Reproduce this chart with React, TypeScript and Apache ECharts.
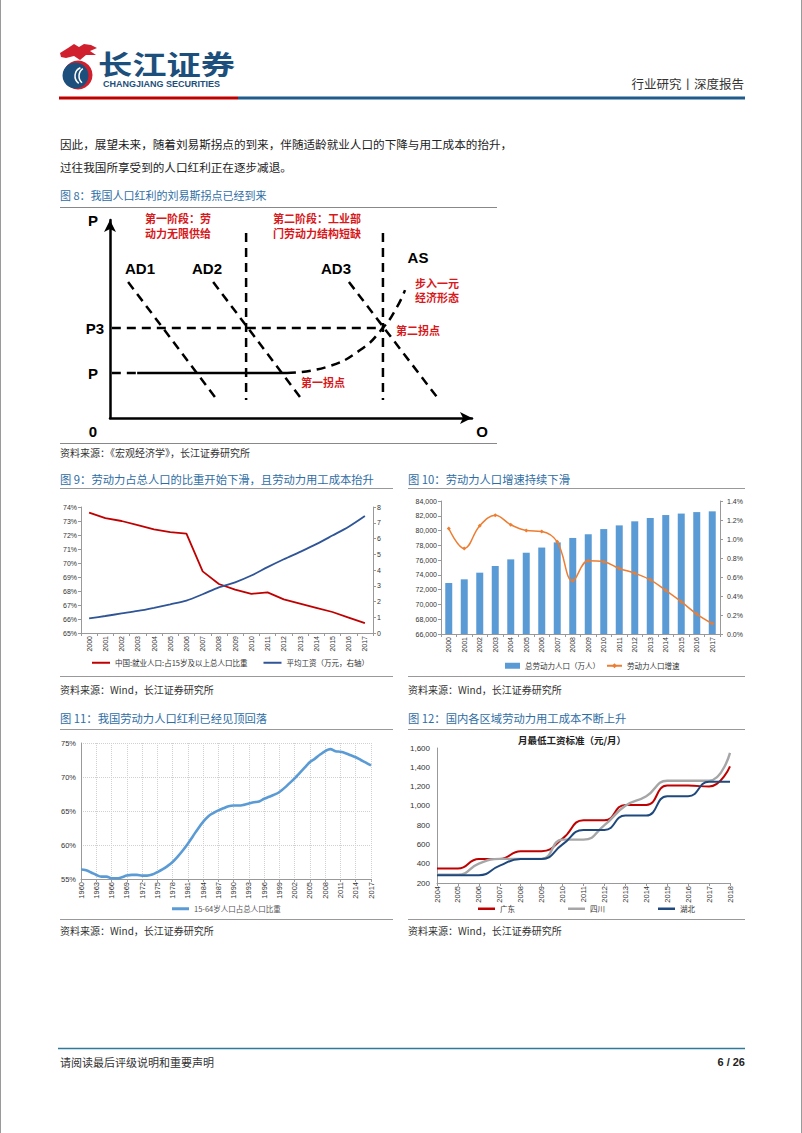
import React, { useEffect, useRef } from 'react';
import * as echarts from 'echarts';

// ---------- Fig 8 (schematic, concept units 0-100) ----------
const fig8AD1 = [[5, 68.7], [29, 10.6]];
const fig8AD2 = [[28.5, 68.7], [52.5, 10.6]];
const fig8AD3 = [[66, 68.7], [90.3, 10.6]];
const fig8V1 = [[37.6, 93.4], [37.6, 9.1]];
const fig8V2 = [[75.4, 93.4], [75.4, 9.1]];
const fig8P3 = [[0.5, 45.5], [75.4, 45.5]];
const fig8PDash = [[0.5, 22.7], [7.5, 22.7]];
const fig8PSolid = [[7.5, 22.7], [48.9, 22.7]];
const fig8AS = [[48.9, 22.7], [59.9, 25.8], [69.1, 34.3], [75.4, 45.5], [79.3, 56.1], [81.5, 64.6]];

// ---------- Fig 9 ----------
const fig9Years = ['2000', '2001', '2002', '2003', '2004', '2005', '2006', '2007', '2008', '2009', '2010', '2011', '2012', '2013', '2014', '2015', '2016', '2017'];
const fig9Employment = [73.6, 73.2, 73.0, 72.7, 72.4, 72.2, 72.1, 69.4, 68.5, 68.1, 67.8, 67.9, 67.4, 67.1, 66.8, 66.5, 66.1, 65.7];
const fig9Wage = [0.93, 1.08, 1.24, 1.4, 1.6, 1.82, 2.06, 2.46, 2.9, 3.22, 3.65, 4.18, 4.68, 5.15, 5.64, 6.19, 6.75, 7.43];
const fig9Names = ['中国:就业人口:占15岁及以上总人口比重', '平均工资（万元，右轴）'];

// ---------- Fig 10 ----------
const fig10Years = ['2000', '2001', '2002', '2003', '2004', '2005', '2006', '2007', '2008', '2009', '2010', '2011', '2012', '2013', '2014', '2015', '2016', '2017'];
const fig10Labor = [72900, 73400, 74300, 75200, 76100, 77000, 77700, 78400, 79000, 79500, 80200, 80700, 81250, 81700, 82100, 82300, 82500, 82600];
const fig10Growth = [1.11, 0.9, 1.14, 1.25, 1.15, 1.09, 1.08, 0.97, 0.56, 0.77, 0.76, 0.69, 0.64, 0.57, 0.46, 0.34, 0.21, 0.11];
const fig10Names = ['总劳动力人口（万人）', '劳动力人口增速'];

// ---------- Fig 11 ----------
const fig11Years = ['1960', '1961', '1962', '1963', '1964', '1965', '1966', '1967', '1968', '1969', '1970', '1971', '1972', '1973', '1974', '1975', '1976', '1977', '1978', '1979', '1980', '1981', '1982', '1983', '1984', '1985', '1986', '1987', '1988', '1989', '1990', '1991', '1992', '1993', '1994', '1995', '1996', '1997', '1998', '1999', '2000', '2001', '2002', '2003', '2004', '2005', '2006', '2007', '2008', '2009', '2010', '2011', '2012', '2013', '2014', '2015', '2016', '2017'];
const fig11Share = [56.4, 56.3, 55.95, 55.6, 55.35, 55.35, 55.1, 55.1, 55.25, 55.5, 55.6, 55.6, 55.5, 55.5, 55.65, 56.0, 56.4, 56.9, 57.5, 58.3, 59.2, 60.2, 61.3, 62.4, 63.4, 64.2, 64.7, 65.1, 65.4, 65.7, 65.8, 65.8, 65.9, 66.1, 66.3, 66.4, 66.8, 67.1, 67.4, 67.8, 68.4, 69.1, 69.8, 70.6, 71.4, 72.2, 72.7, 73.3, 73.8, 74.1, 73.8, 73.7, 73.5, 73.2, 72.9, 72.5, 72.1, 71.7];
const fig11Name = '15-64岁人口占总人口比重';

// ---------- Fig 12 ----------
const fig12Years = ['2004', '2005', '2006', '2007', '2008', '2009', '2010', '2011', '2012', '2013', '2014', '2015', '2016', '2017', '2018'];
const fig12Guangdong = [350, 350, 450, 450, 530, 530, 660, 850, 850, 1010, 1010, 1210, 1210, 1200, 1410];
const fig12Sichuan = [285, 285, 400, 450, 450, 450, 650, 650, 800, 1000, 1100, 1260, 1260, 1260, 1550];
const fig12Hubei = [280, 280, 280, 380, 450, 450, 600, 750, 750, 900, 900, 1100, 1100, 1250, 1250];
const fig12Names = ['广东', '四川', '湖北'];

const CJK = "'Noto Sans CJK SC', sans-serif";
const LAT = "Arial, 'Liberation Sans', 'Noto Sans CJK SC', sans-serif";
const CAP = '#2e6da4';
const RED8 = '#d7191c';

function txt(text: string, x: number, y: number, o: any = {}) {
  const align = o.align || 'left';
  return {
    type: 'text', x, y, silent: true, z: 20,
    scaleX: o.scaleX || 1,
    style: {
      text, fill: o.fill || '#222', fontSize: o.size || 12, fontWeight: o.weight || 'normal',
      fontFamily: o.family || CJK, textAlign: align, textVerticalAlign: 'middle', align, verticalAlign: 'middle',
    },
  };
}
function ln(x1: number, y1: number, x2: number, y2: number, stroke: string, lineWidth = 1) {
  return { type: 'line', silent: true, z: 20, shape: { x1, y1, x2, y2 }, style: { stroke, lineWidth } };
}

function buildOption() {
  const dash = { color: '#000', width: 2.5, type: [9, 6] as any };
  const f8 = (name: string, data: number[][], solid = false, smooth = false) => ({
    name, type: 'line', xAxisIndex: 0, yAxisIndex: 0, data, symbol: 'none', silent: true, smooth,
    lineStyle: solid ? { color: '#000', width: 2.5 } : dash,
  });

  const axisLbl = (size: number) => ({ fontSize: size, color: '#333', fontFamily: LAT });
  const grayLine = { lineStyle: { color: '#999', width: 1 } };

  const graphic: any[] = [
    // page borders
    ln(0.5, 0, 0.5, 1133, '#9a9a9a'),
    ln(801.5, 0, 801.5, 1133, '#9a9a9a'),
    // logo icon
    { type: 'polygon', silent: true, shape: { points: [[60, 53], [68, 48], [74, 44], [79, 47], [84, 44], [91, 45], [97, 48], [90, 51], [96, 55], [86, 55], [80, 60], [74, 56], [66, 58], [61, 57]] }, style: { fill: '#d0202e' } },
    { type: 'circle', silent: true, shape: { cx: 78, cy: 75, r: 14.5 }, style: { fill: '#d0202e' } },
    { type: 'circle', silent: true, shape: { cx: 75.5, cy: 75.5, r: 13 }, style: { fill: '#1d4f7c' } },
    { type: 'arc', silent: true, shape: { cx: 84, cy: 76, r: 9, startAngle: 2.2, endAngle: 4.3 }, style: { stroke: '#fff', lineWidth: 1.5, fill: 'none' } },
    { type: 'arc', silent: true, shape: { cx: 88, cy: 76, r: 9, startAngle: 2.3, endAngle: 4.1 }, style: { stroke: '#fff', lineWidth: 1.5, fill: 'none' } },
    txt('长江证券', 98, 63, { size: 27, weight: 'bold', fill: '#1d4f7c', scaleX: 1.27 }),
    txt('CHANGJIANG SECURITIES', 103, 84, { size: 9, weight: 'bold', fill: '#1d4f7c', family: LAT }),
    txt('行业研究丨深度报告', 744, 83, { size: 12.5, align: 'right', fill: '#333' }),
    { type: 'rect', silent: true, shape: { x: 59, y: 96.5, width: 179, height: 3 }, style: { fill: '#c00000' } },
    { type: 'rect', silent: true, shape: { x: 238, y: 96.5, width: 507, height: 3 }, style: { fill: '#1f5c8b' } },
    // body
    txt('因此，展望未来，随着刘易斯拐点的到来，伴随适龄就业人口的下降与用工成本的抬升，', 60, 144, { size: 11.6 }),
    txt('过往我国所享受到的人口红利正在逐步减退。', 60, 167, { size: 11.6 }),
    // fig 8
    txt('图 8：我国人口红利的刘易斯拐点已经到来', 60, 195, { size: 11, fill: CAP }),
    ln(60, 207.5, 497, 207.5, '#888', 1.2),
    txt('P', 93, 220, { size: 15, weight: 'bold', family: LAT, align: 'center', fill: '#000' }),
    txt('P3', 95, 328, { size: 15, weight: 'bold', family: LAT, align: 'center', fill: '#000' }),
    txt('P', 93, 373, { size: 15, weight: 'bold', family: LAT, align: 'center', fill: '#000' }),
    txt('0', 93, 431, { size: 15, weight: 'bold', family: LAT, align: 'center', fill: '#000' }),
    txt('O', 482, 431, { size: 15, weight: 'bold', family: LAT, align: 'center', fill: '#000' }),
    txt('AD1', 140, 268, { size: 15, weight: 'bold', family: LAT, align: 'center', fill: '#000' }),
    txt('AD2', 207, 268, { size: 15, weight: 'bold', family: LAT, align: 'center', fill: '#000' }),
    txt('AD3', 336, 268, { size: 15, weight: 'bold', family: LAT, align: 'center', fill: '#000' }),
    txt('AS', 418, 257, { size: 15, weight: 'bold', family: LAT, align: 'center', fill: '#000' }),
    txt('第一阶段：劳', 178, 218, { size: 11, weight: 'bold', align: 'center', fill: RED8 }),
    txt('动力无限供给', 178, 233, { size: 11, weight: 'bold', align: 'center', fill: RED8 }),
    txt('第二阶段：工业部', 317, 218, { size: 11, weight: 'bold', align: 'center', fill: RED8 }),
    txt('门劳动力结构短缺', 317, 233, { size: 11, weight: 'bold', align: 'center', fill: RED8 }),
    txt('步入一元', 437, 283, { size: 11, weight: 'bold', align: 'center', fill: RED8 }),
    txt('经济形态', 437, 297, { size: 11, weight: 'bold', align: 'center', fill: RED8 }),
    txt('第二拐点', 418, 330, { size: 11, weight: 'bold', align: 'center', fill: RED8 }),
    txt('第一拐点', 323, 382, { size: 11, weight: 'bold', align: 'center', fill: RED8 }),
    ln(60, 443.5, 497, 443.5, '#888', 1.2),
    txt('资料来源：《宏观经济学》，长江证券研究所', 60, 452, { size: 10, fill: '#333' }),
    // fig 9 / 10 captions
    txt('图 9：劳动力占总人口的比重开始下滑，且劳动力用工成本抬升', 60, 479, { size: 11.3, fill: CAP }),
    ln(60, 488.5, 393, 488.5, '#999', 1.2),
    txt('图 10：劳动力人口增速持续下滑', 408, 479, { size: 11.3, fill: CAP }),
    ln(408, 488.5, 745, 488.5, '#999', 1.2),
    ln(60, 676.5, 393, 676.5, '#999', 1.2),
    ln(408, 676.5, 745, 676.5, '#999', 1.2),
    txt('资料来源：Wind，长江证券研究所', 60, 689, { size: 10, fill: '#333' }),
    txt('资料来源：Wind，长江证券研究所', 408, 689, { size: 10, fill: '#333' }),
    // fig 11 / 12 captions
    txt('图 11：我国劳动力人口红利已经见顶回落', 60, 718, { size: 11.3, fill: CAP }),
    ln(60, 729.5, 393, 729.5, '#999', 1.2),
    txt('图 12：国内各区域劳动力用工成本不断上升', 408, 718, { size: 11.3, fill: CAP }),
    ln(408, 729.5, 745, 729.5, '#999', 1.2),
    txt('月最低工资标准（元/月）', 572, 740, { size: 9.5, weight: 'bold', align: 'center', fill: '#222' }),
    ln(60, 919.5, 393, 919.5, '#999', 1.2),
    ln(408, 919.5, 745, 919.5, '#999', 1.2),
    txt('资料来源：Wind，长江证券研究所', 60, 930, { size: 10, fill: '#333' }),
    txt('资料来源：Wind，长江证券研究所', 408, 930, { size: 10, fill: '#333' }),
    // footer
    ln(58, 1048.5, 745, 1048.5, '#2e7a9a', 1.5),
    txt('请阅读最后评级说明和重要声明', 60, 1062, { size: 11, fill: '#333' }),
    txt('6 / 26', 745, 1062, { size: 11, weight: 'bold', align: 'right', fill: '#222', family: LAT }),
  ];

  const catX = (gridIndex: number, data: string[], size: number, extra: any = {}) => ({
    type: 'category', gridIndex, data, boundaryGap: true,
    axisLine: grayLine,
    axisTick: { show: true, length: 3, lineStyle: { color: '#999' } },
    axisLabel: { ...axisLbl(size), rotate: 90, margin: 3, interval: 0 },
    splitLine: { show: false },
    ...extra,
  });
  const valY = (gridIndex: number, min: number, max: number, interval: number, size: number, fmt: any, extra: any = {}) => ({
    type: 'value', gridIndex, min, max, interval,
    axisLine: { show: true, ...grayLine },
    axisTick: { show: true, length: 3, lineStyle: { color: '#999' } },
    axisLabel: { ...axisLbl(size), formatter: fmt, margin: 4 },
    splitLine: { show: false },
    ...extra,
  });

  const axis8 = {
    type: 'value', gridIndex: 0, min: 0, max: 100,
    axisLine: { show: true, onZero: false, symbol: ['none', 'arrow'], symbolSize: [9, 12], lineStyle: { color: '#000', width: 2.5 } },
    axisTick: { show: false }, axisLabel: { show: false }, splitLine: { show: false },
  };

  return {
    animation: false,
    backgroundColor: '#fff',
    textStyle: { fontFamily: LAT },
    graphic,
    grid: [
      { left: 110, top: 220, width: 362, height: 198 },
      { left: 81, top: 507, width: 292, height: 126 },
      { left: 441, top: 501, width: 279, height: 133 },
      { left: 81, top: 743, width: 290, height: 136 },
      { left: 437, top: 748, width: 293, height: 135 },
    ],
    xAxis: [
      axis8,
      catX(1, fig9Years, 7),
      catX(2, fig10Years, 7),
      catX(3, fig11Years, 7.5, {
        boundaryGap: false,
        axisLabel: { ...axisLbl(7.5), rotate: 90, margin: 3, interval: 2 },
        axisTick: { show: true, length: 3, interval: 2, lineStyle: { color: '#999' } },
        splitLine: { show: true, interval: 2, lineStyle: { color: '#d0d0d0', type: 'dotted', width: 1 } },
      }),
      catX(4, fig12Years, 7.5, { boundaryGap: false, axisLabel: { ...axisLbl(7.5), rotate: 90, margin: 3, interval: 0 } }),
    ],
    yAxis: [
      axis8,
      valY(1, 65, 74, 1, 7, '{value}%'),
      valY(1, 0, 8, 1, 7, '{value}', { position: 'right' }),
      valY(2, 66000, 84000, 2000, 7, '{value}'),
      valY(2, 0, 1.4, 0.2, 7, (v: number) => v.toFixed(1) + '%', { position: 'right', axisLabel: { ...axisLbl(7), margin: 7, formatter: (v: number) => v.toFixed(1) + '%' } }),
      valY(3, 55, 75, 5, 7.5, '{value}%', {
        axisTick: { show: false },
        axisLabel: { ...axisLbl(7.5), margin: 5, formatter: '{value}%' },
        splitLine: { show: true, lineStyle: { color: '#d0d0d0', type: 'dotted', width: 1 } },
      }),
      valY(4, 200, 1600, 200, 8, (v: number) => v.toLocaleString('en-US'), { axisTick: { show: false }, axisLabel: { ...axisLbl(8), margin: 7, formatter: (v: number) => v.toLocaleString('en-US') } }),
    ],
    legend: [
      {
        data: fig9Names, left: 92, top: 659, itemWidth: 18, itemHeight: 2, icon: 'rect', itemGap: 16,
        textStyle: { fontSize: 7.5, color: '#333', fontFamily: CJK }, padding: 0,
      },
      {
        data: [{ name: fig10Names[0], icon: 'rect' }, { name: fig10Names[1] }], left: 505, top: 662, itemWidth: 15, itemHeight: 6, itemGap: 6,
        textStyle: { fontSize: 7.5, color: '#333', fontFamily: CJK }, padding: 0,
      },
      {
        data: [fig11Name], left: 172, top: 905, itemWidth: 17, itemHeight: 3, icon: 'rect',
        textStyle: { fontSize: 7.5, color: '#555', fontFamily: CJK }, padding: 0,
      },
      {
        data: fig12Names, left: 478, top: 905, itemWidth: 17, itemHeight: 2.5, icon: 'rect', itemGap: 53,
        textStyle: { fontSize: 7.5, color: '#333', fontFamily: CJK }, padding: 0,
      },
    ],
    series: [
      f8('AD1', fig8AD1), f8('AD2', fig8AD2), f8('AD3', fig8AD3),
      f8('V1', fig8V1), f8('V2', fig8V2), f8('P3', fig8P3),
      f8('Pd', fig8PDash), f8('Ps', fig8PSolid, true), f8('AS', fig8AS, false, true),
      {
        name: fig9Names[0], type: 'line', xAxisIndex: 1, yAxisIndex: 1, data: fig9Employment, symbol: 'none',
        lineStyle: { color: '#c00000', width: 1.8 }, itemStyle: { color: '#c00000' },
      },
      {
        name: fig9Names[1], type: 'line', xAxisIndex: 1, yAxisIndex: 2, data: fig9Wage, symbol: 'none', smooth: 0.3,
        lineStyle: { color: '#2f5597', width: 1.8 }, itemStyle: { color: '#2f5597' },
      },
      {
        name: fig10Names[0], type: 'bar', xAxisIndex: 2, yAxisIndex: 3, data: fig10Labor, barWidth: 7,
        itemStyle: { color: '#5b9bd5' },
      },
      {
        name: fig10Names[1], type: 'line', xAxisIndex: 2, yAxisIndex: 4, data: fig10Growth, smooth: 0.4,
        symbol: 'diamond', symbolSize: 4, lineStyle: { color: '#ed7d31', width: 1.5 }, itemStyle: { color: '#ed7d31' },
      },
      {
        name: fig11Name, type: 'line', xAxisIndex: 3, yAxisIndex: 5, data: fig11Share, symbol: 'none', smooth: 0.4,
        lineStyle: { color: '#5b9bd5', width: 2.6 }, itemStyle: { color: '#5b9bd5' },
      },
      {
        name: fig12Names[0], type: 'line', xAxisIndex: 4, yAxisIndex: 6, data: fig12Guangdong, symbol: 'none', smooth: 0.5,
        lineStyle: { color: '#c00000', width: 2 }, itemStyle: { color: '#c00000' },
      },
      {
        name: fig12Names[1], type: 'line', xAxisIndex: 4, yAxisIndex: 6, data: fig12Sichuan, symbol: 'none', smooth: 0.5,
        lineStyle: { color: '#a6a6a6', width: 2.4 }, itemStyle: { color: '#a6a6a6' },
      },
      {
        name: fig12Names[2], type: 'line', xAxisIndex: 4, yAxisIndex: 6, data: fig12Hubei, symbol: 'none', smooth: 0.5,
        lineStyle: { color: '#1f497d', width: 2 }, itemStyle: { color: '#1f497d' },
      },
    ],
  };
}

export default function App() {
  const ref = useRef<HTMLDivElement>(null);
  useEffect(() => {
    document.body.style.margin = '0';
    const chart = echarts.init(ref.current!, null, { renderer: 'svg', width: 802, height: 1133 });
    chart.setOption(buildOption() as any);
    return () => chart.dispose();
  }, []);
  return <div ref={ref} style={{ position: 'absolute', left: 0, top: 0, width: 802, height: 1133, background: '#fff' }} />;
}
